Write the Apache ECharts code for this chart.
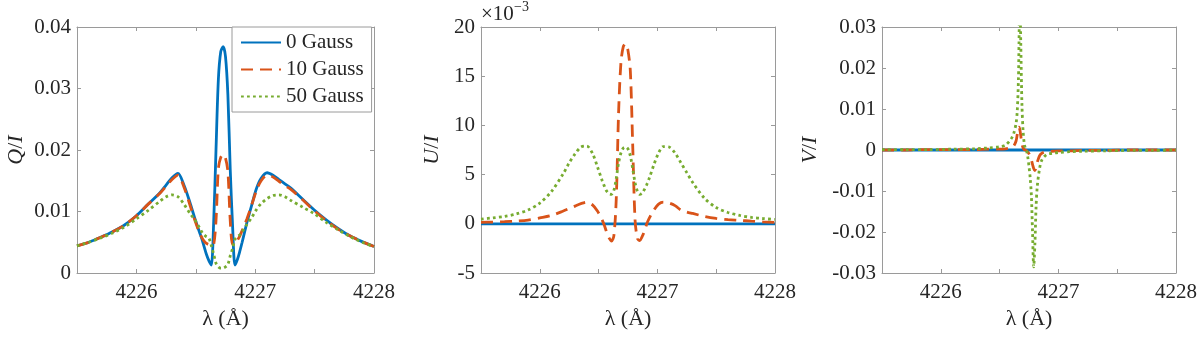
<!DOCTYPE html>
<html>
<head>
<meta charset="utf-8">
<title>Q/I U/I V/I profiles</title>
<script src="https://cdn.jsdelivr.net/npm/echarts@6/dist/echarts.min.js"></script>
<style>
  html, body { margin: 0; padding: 0; background: #fff; }
  #chart { width: 1200px; height: 337px; }
</style>
</head>
<body>
<div id="chart"></div>
<script>
// wavelength grid (Angstrom) for Q/I and U/I
var lam = [4225.5, 4225.6, 4225.7, 4225.8, 4225.9, 4226.0, 4226.1, 4226.2, 4226.25, 4226.3,
  4226.35, 4226.4, 4226.45, 4226.49, 4226.53, 4226.55, 4226.57, 4226.59, 4226.61, 4226.63,
  4226.65, 4226.67, 4226.69, 4226.71, 4226.73, 4226.75, 4226.77, 4226.79, 4226.81, 4226.83,
  4226.85, 4226.87, 4226.89, 4226.91, 4226.93, 4226.97, 4227.01, 4227.05, 4227.1, 4227.15,
  4227.2, 4227.25, 4227.3, 4227.4, 4227.5, 4227.6, 4227.7, 4227.8, 4227.9, 4228.0];

// Q/I
var q0 = [0.0044, 0.0050, 0.0058, 0.0067, 0.0078, 0.0093, 0.0112, 0.0131, 0.0143, 0.0155,
  0.0162, 0.0143, 0.0115, 0.0090, 0.0067, 0.0056, 0.0043, 0.0030, 0.0020, 0.0013,
  0.0080, 0.0200, 0.0315, 0.0360, 0.0368, 0.0352, 0.0290, 0.0168, 0.0075, 0.0013,
  0.0022, 0.0035, 0.0050, 0.0066, 0.0082, 0.0110, 0.0137, 0.0154, 0.0163, 0.0159,
  0.0152, 0.0145, 0.0138, 0.0120, 0.0102, 0.0086, 0.0072, 0.0060, 0.0051, 0.0043];
var q10 = [0.0044, 0.0050, 0.0058, 0.0067, 0.0078, 0.0093, 0.0112, 0.0130, 0.0141, 0.0152,
  0.0159, 0.0140, 0.0111, 0.0087, 0.0066, 0.0058, 0.0052, 0.0048, 0.0046, 0.0045,
  0.0046, 0.0085, 0.0170, 0.0188, 0.0193, 0.0187, 0.0165, 0.0085, 0.0046, 0.0047,
  0.0053, 0.0060, 0.0069, 0.0078, 0.0088, 0.0110, 0.0134, 0.0150, 0.0159, 0.0156,
  0.0149, 0.0142, 0.0136, 0.0119, 0.0101, 0.0085, 0.0071, 0.0060, 0.0051, 0.0043];
var q50 = [0.0044, 0.0050, 0.0057, 0.0065, 0.0075, 0.0088, 0.0102, 0.0117, 0.0124, 0.0127,
  0.0124, 0.0112, 0.0097, 0.0087, 0.0074, 0.0067, 0.0062, 0.0059, 0.0057, 0.0045,
  0.0031, 0.0016, 0.0010, 0.0008, 0.0008, 0.0010, 0.0014, 0.0028, 0.0040, 0.0055,
  0.0059, 0.0062, 0.0067, 0.0073, 0.0079, 0.0090, 0.0103, 0.0113, 0.0121, 0.0126,
  0.0127, 0.0124, 0.0118, 0.0107, 0.0096, 0.0082, 0.0070, 0.0059, 0.0050, 0.0043];

// U/I in units of 1e-3
var u0 = lam.map(function () { return 0; });
var u10 = [0.15, 0.18, 0.22, 0.28, 0.38, 0.60, 0.85, 1.30, 1.55, 1.80,
  2.05, 2.20, 1.90, 1.30, 0.40, -0.20, -0.90, -1.45, -1.75, -1.20,
  2.5, 11.3, 16.4, 18.0, 18.3, 17.6, 15.5, 8.0, 0.4, -1.5,
  -1.7, -1.3, -0.75, 0.0, 0.55, 1.4, 2.0, 2.2, 2.1, 1.85,
  1.4, 1.2, 1.05, 0.75, 0.55, 0.42, 0.35, 0.27, 0.20, 0.15];
var u50 = [0.47, 0.60, 0.75, 1.0, 1.4, 2.1, 3.3, 5.1, 6.2, 7.1,
  7.8, 7.9, 7.1, 5.8, 4.4, 3.8, 3.3, 3.05, 3.0, 3.4,
  4.6, 6.2, 7.2, 7.7, 7.8, 7.6, 6.9, 5.6, 4.2, 3.3,
  3.0, 3.1, 3.5, 4.0, 4.6, 6.0, 7.2, 7.85, 7.8, 7.2,
  6.2, 5.2, 4.2, 2.6, 1.65, 1.15, 0.85, 0.65, 0.53, 0.44];

// finer grid for V/I
var lamV = [4225.5, 4225.7, 4225.9, 4226.1, 4226.3, 4226.4, 4226.5, 4226.55, 4226.6, 4226.62,
  4226.64, 4226.65, 4226.66, 4226.665, 4226.67, 4226.675, 4226.68, 4226.69, 4226.7, 4226.71,
  4226.72, 4226.73, 4226.74, 4226.75, 4226.76, 4226.77, 4226.78, 4226.79, 4226.8, 4226.81,
  4226.82, 4226.84, 4226.86, 4226.9, 4226.95, 4227.0, 4227.1, 4227.2, 4227.4, 4227.6,
  4227.8, 4228.0];
var v0 = lamV.map(function () { return 0; });
var v10 = [0, 0, 0.0001, 0.0001, 0.0001, 0.0002, 0.0002, 0.0003, 0.0006, 0.0010,
  0.0022, 0.0038, 0.0055, 0.0056, 0.0052, 0.0045, 0.0035, 0.0015, 0.0005, 0.0001,
  0, -0.0002, -0.0005, -0.0009, -0.0015, -0.0024, -0.0035, -0.0045, -0.0050, -0.0042,
  -0.0030, -0.0014, -0.0008, -0.0004, -0.0003, -0.0002, -0.0002, -0.0001, -0.0001, 0,
  0, 0];
var v50 = [0.0001, 0.0001, 0.0001, 0.0002, 0.0003, 0.0005, 0.0008, 0.0012, 0.0028, 0.0040,
  0.0065, 0.0095, 0.0170, 0.0260, 0.0340, 0.0330, 0.0260, 0.0110, 0.0045, 0.0015,
  0.0003, -0.0003, -0.0018, -0.0040, -0.0068, -0.0110, -0.0200, -0.0285, -0.0230, -0.0140,
  -0.0090, -0.0045, -0.0024, -0.0011, -0.0008, -0.0006, -0.0004, -0.0003, -0.0002, -0.0001,
  -0.0001, 0];

var names = ['0 Gauss', '10 Gauss', '50 Gauss'];
var colors = ['#0072BD', '#D95319', '#77AC30'];
var dashes = ['solid', [12, 7], [2.8, 3.2]];

var FONT = 'Liberation Serif';
var TXT = '#262626';
var AX = '#9a9a9a';

function pairs(xs, ys) {
  return xs.map(function (x, i) { return [x, ys[i]]; });
}

var grids = [
  { left: 77, right: 826, top: 27, bottom: 64 },
  { left: 481, right: 425, top: 27, bottom: 64 },
  { left: 882, right: 24, top: 27, bottom: 64 }
];
var yRanges = [[0, 0.04, 0.01], [-5, 20, 5], [-0.03, 0.03, 0.01]];
var yNames = ['{i|Q}/{i|I}', '{i|U}/{i|I}', '{i|V}/{i|I}'];
var yGaps = [50, 38, 61];

var xAxes = [], yAxes = [];
grids.forEach(function (g, i) {
  var tick = { show: true, inside: true, length: 4, lineStyle: { color: AX } };
  xAxes.push({
    type: 'value', gridIndex: i, min: 4225.5, max: 4228, interval: 0.5,
    axisLine: { onZero: false, lineStyle: { color: AX, width: 1 } },
    axisTick: tick, splitLine: { show: false },
    axisLabel: {
      margin: 9, color: TXT, fontSize: 21, fontFamily: FONT,
      formatter: function (v) { return Math.abs(v - Math.round(v)) < 1e-6 ? String(Math.round(v)) : ''; }
    },
    name: 'λ (Å)', nameLocation: 'middle', nameGap: 34,
    nameTextStyle: { color: TXT, fontSize: 22, fontFamily: FONT }
  });
  xAxes.push({
    type: 'value', gridIndex: i, position: 'top', min: 4225.5, max: 4228, interval: 0.5,
    axisLine: { onZero: false, lineStyle: { color: AX, width: 1 } },
    axisTick: tick, axisLabel: { show: false }, splitLine: { show: false }
  });
  var r = yRanges[i];
  yAxes.push({
    type: 'value', gridIndex: i, min: r[0], max: r[1], interval: r[2],
    axisLine: { show: true, onZero: false, lineStyle: { color: AX, width: 1 } },
    axisTick: tick, splitLine: { show: false },
    axisLabel: {
      margin: 6, color: TXT, fontSize: 21, fontFamily: FONT,
      formatter: function (v) { return String(+v.toFixed(3)); }
    },
    name: yNames[i], nameLocation: 'middle', nameGap: yGaps[i],
    nameTextStyle: {
      color: TXT, fontSize: 22, fontFamily: FONT,
      rich: { i: { fontStyle: 'italic', fontSize: 22, fontFamily: FONT, color: TXT } }
    }
  });
  yAxes.push({
    type: 'value', gridIndex: i, position: 'right', min: r[0], max: r[1], interval: r[2],
    axisLine: { show: true, onZero: false, lineStyle: { color: AX, width: 1 } },
    axisTick: tick, axisLabel: { show: false }, splitLine: { show: false }
  });
});

var panels = [
  [lam, [q0, q10, q50]],
  [lam, [u0, u10, u50]],
  [lamV, [v0, v10, v50]]
];
var series = [];
panels.forEach(function (p, i) {
  p[1].forEach(function (ys, k) {
    series.push({
      name: names[k], type: 'line',
      xAxisIndex: i * 2, yAxisIndex: i * 2,
      data: pairs(p[0], ys),
      symbol: 'none', showSymbol: false, smooth: 0.3, clip: true,
      lineStyle: { color: colors[k], width: 2.8, type: dashes[k] },
      itemStyle: { color: colors[k], opacity: 0 }
    });
  });
});

var chart = echarts.init(document.getElementById('chart'));
chart.setOption({
  animation: false,
  backgroundColor: '#fff',
  grid: grids,
  xAxis: xAxes,
  yAxis: yAxes,
  legend: {
    data: names, orient: 'vertical', left: 232, top: 27,
    itemWidth: 40, itemHeight: 14, itemGap: 6,
    padding: [5, 8, 5, 8],
    borderColor: AX, borderWidth: 1, backgroundColor: '#fff',
    itemStyle: { opacity: 0 },
    textStyle: { color: TXT, fontSize: 21, fontFamily: FONT }
  },
  graphic: [
    { type: 'text', left: 481, top: 4, style: { text: '×10', font: '21px ' + FONT, fill: TXT } },
    { type: 'text', left: 514, top: 0, style: { text: '−3', font: '14px ' + FONT, fill: TXT } }
  ],
  series: series
});
</script>
</body>
</html>
